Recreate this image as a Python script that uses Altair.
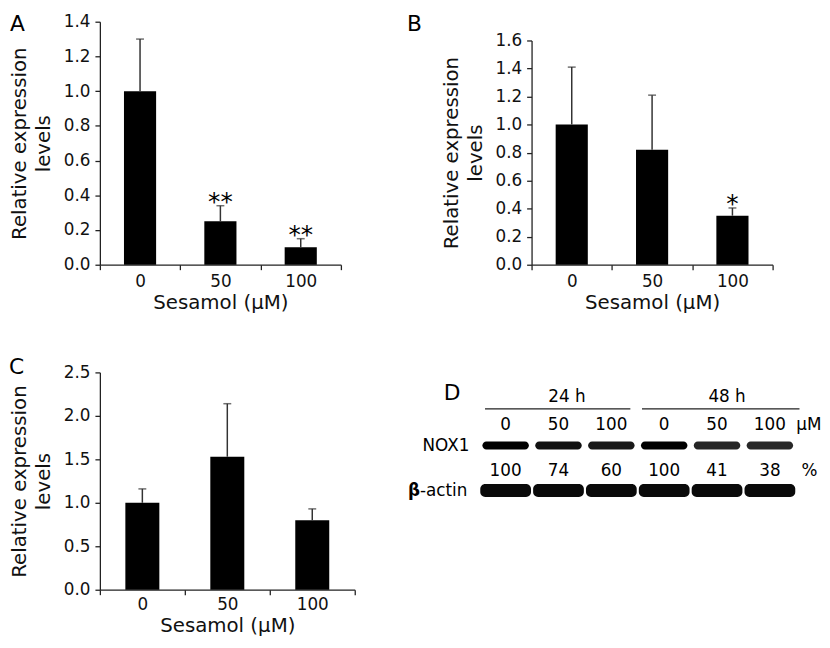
import altair as alt
import pandas as pd

FONT = "DejaVu Sans"

# ---- data ----
conc = ["0", "50", "100"]
a_mean = [1.00, 0.25, 0.10]
a_sd = [0.30, 0.09, 0.05]
a_sig = ["", "**", "**"]

b_mean = [1.00, 0.82, 0.35]
b_sd = [0.41, 0.39, 0.055]
b_sig = ["", "", "*"]

c_mean = [1.00, 1.53, 0.80]
c_sd = [0.16, 0.61, 0.13]
c_sig = ["", "", ""]

blot_times = ["24 h", "48 h"]
blot_conc = ["0", "50", "100", "0", "50", "100"]
blot_pct = ["100", "74", "60", "100", "41", "38"]
nox1_level = [100, 74, 60, 100, 41, 38]


def bar_panel(letter, means, sds, sig, ymax, ystep, w, h, yrange=None,
              letter_x=-91, letter_y=-8, lpad=4, tpad=3):
    df = pd.DataFrame({"conc": conc, "mean": means, "sd": sds, "sig": sig})
    df["top"] = df["mean"] + df["sd"]
    base = alt.Chart(df)
    x = alt.X("conc:N", sort=conc,
              scale=alt.Scale(paddingInner=0, paddingOuter=0),
              axis=alt.Axis(title="Sesamol (μM)", labelAngle=0, tickBand="extent",
                            tickSize=5, labelPadding=lpad, titlePadding=tpad,
                            titleFontSize=20))
    sc = dict(domain=[0, ymax], nice=False, zero=True)
    if yrange is not None:
        sc["range"] = yrange
    n = int(round(ymax / ystep))
    vals = [round(i * ystep, 2) for i in range(n + 1)]
    yax = alt.Axis(title=["Relative expression", "levels"], values=vals,
                   format=".1f", tickSize=5, labelPadding=5, titleFontSize=20,
                   labelOverlap=False, titlePadding=10, titleLineHeight=24)
    y_mean = alt.Y("mean:Q", scale=alt.Scale(**sc), axis=yax)
    y_top = alt.Y("top:Q", scale=alt.Scale(**sc), axis=yax)
    bars = base.mark_bar(color="black", width=alt.RelativeBandSize(0.4)).encode(
        x=x, y=y_mean)
    err = base.mark_rule(color="#333", strokeWidth=1.5).encode(
        x=x, y=y_mean, y2="top:Q")
    cap = base.mark_tick(color="#333", thickness=1.5, size=8).encode(x=x, y=y_top)
    stars = base.mark_text(font=FONT, fontSize=25, baseline="alphabetic",
                           dy=4, color="black").encode(x=x, y=y_top, text="sig:N")
    lab = alt.Chart(pd.DataFrame({"t": [letter]})).mark_text(
        font=FONT, fontSize=22, align="left", baseline="top",
        color="black").encode(x=alt.value(letter_x), y=alt.value(letter_y), text="t:N")
    return alt.layer(bars, err, cap, stars, lab).properties(width=w, height=h)


A = bar_panel("A", a_mean, a_sd, a_sig, 1.4, 0.2, 244, 246)
B = bar_panel("B", b_mean, b_sd, b_sig, 1.6, 0.2, 244, 246, yrange=[246, 19],
              letter_x=-126)
C = bar_panel("C", c_mean, c_sd, c_sig, 2.5, 0.5, 258, 220, letter_x=-92,
              letter_y=-15, lpad=2, tpad=3)

# ---- blot panel D ----
lanes = list(range(6))
blot_df = pd.DataFrame({"lane": lanes, "conc": blot_conc, "pct": blot_pct,
                        "level": nox1_level})
xsc = alt.Scale(domain=[-0.5, 5.5], nice=False, zero=False)

nox = alt.Chart(blot_df).transform_calculate(
    l0="datum.lane - 0.44", l1="datum.lane + 0.44"
).mark_rect(color="black", cornerRadius=4).encode(
    x=alt.X("l0:Q", scale=xsc, axis=None), x2="l1:Q",
    y=alt.value(70), y2=alt.value(78),
    opacity=alt.Opacity("level:Q", scale=alt.Scale(domain=[0, 100], range=[0.75, 1]),
                        legend=None))
actin = alt.Chart(blot_df).transform_calculate(
    l0="datum.lane - 0.48", l1="datum.lane + 0.48"
).mark_rect(color="#0a0a0a", cornerRadius=5).encode(
    x=alt.X("l0:Q", scale=xsc, axis=None), x2="l1:Q",
    y=alt.value(113), y2=alt.value(126))

conc_txt = alt.Chart(blot_df).mark_text(font=FONT, fontSize=17, baseline="alphabetic",
                                        color="black").encode(
    x=alt.X("lane:Q", scale=xsc, axis=None), y=alt.value(58), text="conc:N")
pct_txt = alt.Chart(blot_df).mark_text(font=FONT, fontSize=17, baseline="alphabetic",
                                       color="black").encode(
    x=alt.X("lane:Q", scale=xsc, axis=None), y=alt.value(105), text="pct:N")

time_pos = [1.16, 4.19]
line_start = [-0.39, 2.58]
line_end = [2.36, 5.56]
time_df = pd.DataFrame({"t": blot_times, "pos": time_pos, "s": line_start,
                        "e": line_end})
time_txt = alt.Chart(time_df).mark_text(font=FONT, fontSize=17, baseline="alphabetic",
                                        color="black").encode(
    x=alt.X("pos:Q", scale=xsc, axis=None), y=alt.value(30), text="t:N")
time_line = alt.Chart(time_df).mark_rule(color="#222", strokeWidth=1.3).encode(
    x=alt.X("s:Q", scale=xsc, axis=None), x2="e:Q", y=alt.value(37))

unit_df = pd.DataFrame({"u": ["μM", "%"], "pos": [5.5, 5.6]})
um_txt = alt.Chart(unit_df).transform_filter("datum.u == 'μM'").mark_text(
    font=FONT, fontSize=17, baseline="alphabetic", align="left", color="black").encode(
    x=alt.X("pos:Q", scale=xsc, axis=None), y=alt.value(58), text="u:N")
pc_txt = alt.Chart(unit_df).transform_filter("datum.u == '%'").mark_text(
    font=FONT, fontSize=17, baseline="alphabetic", align="left", color="black").encode(
    x=alt.X("pos:Q", scale=xsc, axis=None), y=alt.value(105), text="u:N")

nox_lab = alt.Chart(pd.DataFrame({"r": ["NOX1"]})).mark_text(
    font=FONT, fontSize=17, align="right", baseline="alphabetic", color="black").encode(
    x=alt.value(-10), y=alt.value(80), text="r:N")
actin_lab = alt.Chart(pd.DataFrame({"r": ["-actin"]})).mark_text(
    font=FONT, fontSize=17, align="right", baseline="alphabetic", color="black").encode(
    x=alt.value(-12), y=alt.value(125), text="r:N")
beta_lab = alt.Chart(pd.DataFrame({"r": ["β"]})).mark_text(
    font=FONT, fontSize=17, fontWeight="bold", align="right", baseline="alphabetic",
    color="black").encode(x=alt.value(-60), y=alt.value(125), text="r:N")
d_lab = alt.Chart(pd.DataFrame({"t": ["D"]})).mark_text(
    font=FONT, fontSize=22, align="left", baseline="top", color="black").encode(
    x=alt.value(-36), y=alt.value(11), text="t:N")

D = alt.layer(nox, actin, conc_txt, pct_txt, time_txt, time_line, um_txt, pc_txt,
              nox_lab, actin_lab, beta_lab, d_lab).properties(width=321, height=130)

top = alt.hconcat(A, B, spacing=64)
bottom = alt.hconcat(C, D, spacing=51)
chart = alt.vconcat(top, bottom, spacing=43).properties(padding=0).configure_view(
    stroke="transparent"
).configure_axis(
    labelFont=FONT, titleFont=FONT, labelFontSize=17,
    titleFontWeight="normal", labelColor="#111", titleColor="#111",
    domainColor="#222", tickColor="#222", domainWidth=1.3, tickWidth=1.3, grid=False
)

chart.save("out.html", embed_options={"renderer": "svg", "actions": False})
